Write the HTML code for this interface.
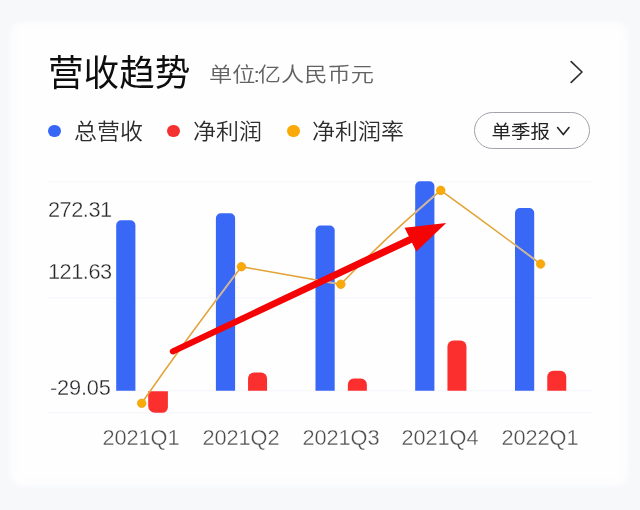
<!DOCTYPE html>
<html lang="zh-CN">
<head>
<meta charset="utf-8">
<title>营收趋势</title>
<style>
html,body{margin:0;padding:0;}
body{width:640px;height:510px;overflow:hidden;background:#f7f8fa;position:relative;
  font-family:"Liberation Sans","Noto Sans CJK SC",sans-serif;}
.card{position:absolute;left:8.2px;top:20.1px;width:622.2px;height:467.6px;background:#fefefe;border-radius:14px;
  box-shadow:inset 0 0 7px 1px rgba(238,240,247,.5);}
#wrap{position:absolute;left:0;top:0;width:640px;height:510px;filter:blur(.3px);}
.t{position:absolute;white-space:nowrap;line-height:1;}
#title{left:47.6px;top:56.2px;font-size:35.7px;color:#0e0e0e;font-weight:400;transform-origin:0 0;transform:scale(.997,1.03);}
#unit{left:209px;top:62.5px;font-size:23px;color:#626264;font-weight:350;transform-origin:0 100%;transform:scale(1.009,.885);}
#unit i{font-style:normal;margin:0 -2px;}
.lg{font-size:22.8px;color:#2c2c2e;font-weight:350;top:121px;transform-origin:0 0;transform:scale(1.008,.965);margin-left:-.5px;}
.dot{position:absolute;width:12.8px;height:12.8px;border-radius:50%;top:124.5px;margin-left:.2px;}
#btn{position:absolute;left:474.3px;top:111.6px;width:116px;height:37.8px;border:1px solid #a2a2ac;border-radius:19px;box-sizing:border-box;background:#fefefe;}
#btnt{left:491.6px;top:122.4px;font-size:19.5px;color:#222224;font-weight:400;transform:scale(1,.95);}
.num{-webkit-text-stroke:.35px #fefefe;}
.yl{font-size:22px;color:#262628;font-weight:400;left:48.2px;transform-origin:0 100%;transform:scale(.99,1.04);letter-spacing:-.5px;margin-top:-.6px;}
.xl{font-size:22px;color:#4c4c4e;margin-left:-2.1px;font-weight:400;top:426.5px;width:100px;text-align:center;transform-origin:50% 100%;transform:scale(.99,1.02);letter-spacing:-.1px;}
svg{position:absolute;left:0;top:0;}
</style>
</head>
<body>
<div id="wrap">
<div class="card"></div>
<div class="t" id="title">营收趋势</div>
<div class="t" id="unit">单位<i>:</i>亿人民币元</div>
<div class="dot" style="left:48.2px;background:#3767f4"></div>
<div class="t lg" id="l1" style="left:74px">总营收</div>
<div class="dot" style="left:166.8px;background:#f43131"></div>
<div class="t lg" id="l2" style="left:193px">净利润</div>
<div class="dot" style="left:286.8px;background:#faa908"></div>
<div class="t lg" id="l3" style="left:312.6px">净利润率</div>
<div id="btn"></div>
<div class="t" id="btnt">单季报</div>
<svg width="640" height="510" viewBox="0 0 640 510">
  <defs>
    <clipPath id="bc">
      <rect x="116.2" y="180" width="19.2" height="211"/>
      <rect x="215.9" y="180" width="19.2" height="211"/>
      <rect x="315.5" y="180" width="19.2" height="211"/>
      <rect x="415.2" y="180" width="19.2" height="211"/>
      <rect x="515" y="180" width="19.2" height="211"/>
    </clipPath>
  </defs>
  <!-- chevrons -->
  <path d="M571.2 61.6 L582 72 L571.2 82.4" fill="none" stroke="#303032" stroke-width="1.7" stroke-linecap="round" stroke-linejoin="round"/>
  <path d="M557.6 127.6 L563.3 134.6 L569 127.6" fill="none" stroke="#222224" stroke-width="1.6" stroke-linecap="round" stroke-linejoin="round"/>
  <!-- gridlines -->
  <g stroke="#f7f8fb" stroke-width="1.4">
    <line x1="48" x2="592" y1="181.6" y2="181.6"/>
    <line x1="48" x2="592" y1="297.8" y2="297.8"/>
    <line x1="48" x2="592" y1="390.8" y2="390.8"/>
    <line x1="48" x2="592" y1="412.8" y2="412.8"/>
  </g>
  <!-- blue bars -->
  <g fill="#3967f6">
    <path d="M116.2 390.8 V225.2 a5 5 0 0 1 5 -5 h9.2 a5 5 0 0 1 5 5 V390.8 Z"/>
    <path d="M215.9 390.8 V218.3 a5 5 0 0 1 5 -5 h9.2 a5 5 0 0 1 5 5 V390.8 Z"/>
    <path d="M315.5 390.8 V230.5 a5 5 0 0 1 5 -5 h9.2 a5 5 0 0 1 5 5 V390.8 Z"/>
    <path d="M415.2 390.8 V186.3 a5 5 0 0 1 5 -5 h9.2 a5 5 0 0 1 5 5 V390.8 Z"/>
    <path d="M515 390.8 V213 a5 5 0 0 1 5 -5 h9.2 a5 5 0 0 1 5 5 V390.8 Z"/>
  </g>
  <!-- red bars -->
  <g fill="#fc2f2f">
    <path d="M148.2 391.2 V406 a6.8 6.8 0 0 0 6.8 6.8 h7.3 a5.6 5.6 0 0 0 5.6 -5.6 V391.2 Z"/>
    <path d="M248.05 390.8 V378.6 a6 6 0 0 1 6 -6 h7 a6 6 0 0 1 6 6 V390.8 Z"/>
    <path d="M347.85 390.8 V384.6 a6 6 0 0 1 6 -6 h7 a6 6 0 0 1 6 6 V390.8 Z"/>
    <path d="M447.45 390.8 V346.6 a6 6 0 0 1 6 -6 h7 a6 6 0 0 1 6 6 V390.8 Z"/>
    <path d="M547.25 390.8 V376.8 a6 6 0 0 1 6 -6 h7 a6 6 0 0 1 6 6 V390.8 Z"/>
  </g>
  <!-- line -->
  <path d="M141.6 403.3 Q189.9 333.8 241.4 266.7 Q291.1 275.5 340.8 284.3 Q388.3 234.7 440.7 190.4 Q491.0 226.7 540.6 264" fill="none" stroke="#e2a337" stroke-width="1.55"/>
  <path d="M141.6 403.3 Q189.9 333.8 241.4 266.7 Q291.1 275.5 340.8 284.3 Q388.3 234.7 440.7 190.4 Q491.0 226.7 540.6 264" fill="none" stroke="#c9b6a6" stroke-width="1.8" clip-path="url(#bc)"/>
  <g fill="#fba906" stroke="#eaa01a" stroke-width=".7">
    <circle cx="141.7" cy="403.3" r="4.3"/><circle cx="241.4" cy="266.7" r="4.3"/><circle cx="340.8" cy="284.3" r="4.3"/><circle cx="440.7" cy="190.4" r="4.3"/><circle cx="540.6" cy="264" r="4.3"/>
  </g>
  <!-- arrow -->
  <path d="M171.42 348.79 L412.56 234.39 L415.67 241.00 L173.98 354.21 A3.0 3.0 0 0 1 171.42 348.79 Z M404.6 227.8 L446.2 222.9 L416.3 251.4 Z" fill="#f40404"/>
</svg>
<div class="t yl num" id="y1" style="top:199.5px">272.31</div>
<div class="t yl num" id="y2" style="top:261.7px">121.63</div>
<div class="t yl num" id="y3" style="top:377.8px;left:49.7px;letter-spacing:-.2px;">-29.05</div>
<div class="t xl num" id="x1" style="left:93.35px">2021Q1</div>
<div class="t xl num" id="x2" style="left:192.99px">2021Q2</div>
<div class="t xl num" id="x3" style="left:292.63px">2021Q3</div>
<div class="t xl num" id="x4" style="left:392.26px">2021Q4</div>
<div class="t xl num" id="x5" style="left:491.9px">2022Q1</div>
</div>
</body>
</html>
